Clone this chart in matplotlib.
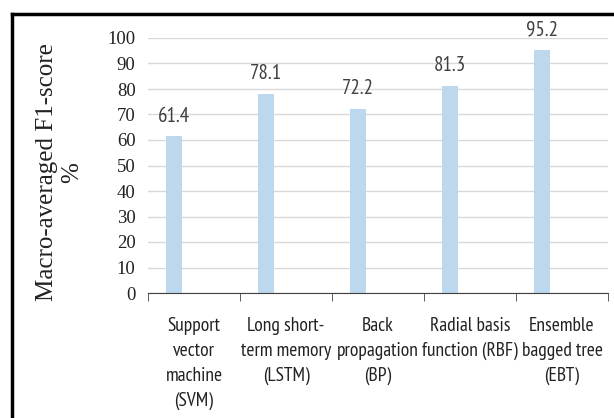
import matplotlib.pyplot as plt
from matplotlib.lines import Line2D

categorias = ["Support\nvector\nmachine\n(SVM)", "Long short-\nterm memory\n(LSTM)",
              "Back\npropagation\n(BP)", "Radial basis\nfunction (RBF)", "Ensemble\nbagged tree\n(EBT)"]
valores = [61.4, 78.1, 72.2, 81.3, 95.2]
yticks = [0, 10, 20, 30, 40, 50, 60, 70, 80, 90, 100]

NARROW = ["PT Sans Narrow", "DejaVu Sans"]
SERIF = ["Liberation Serif", "DejaVu Serif"]

fig = plt.figure(figsize=(6.14, 4.18), dpi=100)
ax = fig.add_axes([148 / 614, 1 - 293 / 418, 460 / 614, 255 / 418])

x = list(range(len(valores)))
pos = [i - 0.217 for i in x]
ax.bar(pos, valores, width=0.17, color="#bdd7ee", zorder=2)
for p, v in zip(pos, valores):
    ax.text(p, v + 8, f"{v}", ha="center", va="center", fontsize=15,
            family=NARROW, color="#404040")

ax.set_xlim(-0.5, len(valores) - 0.5)
ax.set_ylim(0, 100)
ax.set_yticks(yticks)
ax.set_yticklabels([str(t) for t in yticks], family=SERIF, fontsize=13.5, color="#222222")
ax.tick_params(axis="y", length=0, pad=9)
ax.grid(axis="y", color="#d9d9d9", linewidth=1, zorder=0)

ax.set_xticks([i - 0.5 for i in range(len(valores) + 1)], minor=True)
ax.set_xticks(x)
ax.set_xticklabels(categorias, family=NARROW, fontsize=14, linespacing=1.5, va="top",
                   color="#222222")
ax.tick_params(axis="x", which="major", length=0, pad=17)
ax.tick_params(axis="x", which="minor", length=6, color="#404040")

for s in ["top", "right", "left"]:
    ax.spines[s].set_visible(False)
ax.spines["bottom"].set_color("#404040")

fig.text(0.097, 0.588, "Macro-averaged F1-score\n%", rotation=90, ha="center", va="center",
         family=SERIF, fontsize=18, linespacing=1.15, color="#222222")

fig.add_artist(Line2D([12 / 614, 1.0], [1 - 13.5 / 418] * 2, color="black", linewidth=2.5,
                      transform=fig.transFigure))
fig.add_artist(Line2D([12 / 614] * 2, [0, 1 - 13.5 / 418], color="black", linewidth=2.5,
                      transform=fig.transFigure))

fig.savefig("out.png", dpi=100)
